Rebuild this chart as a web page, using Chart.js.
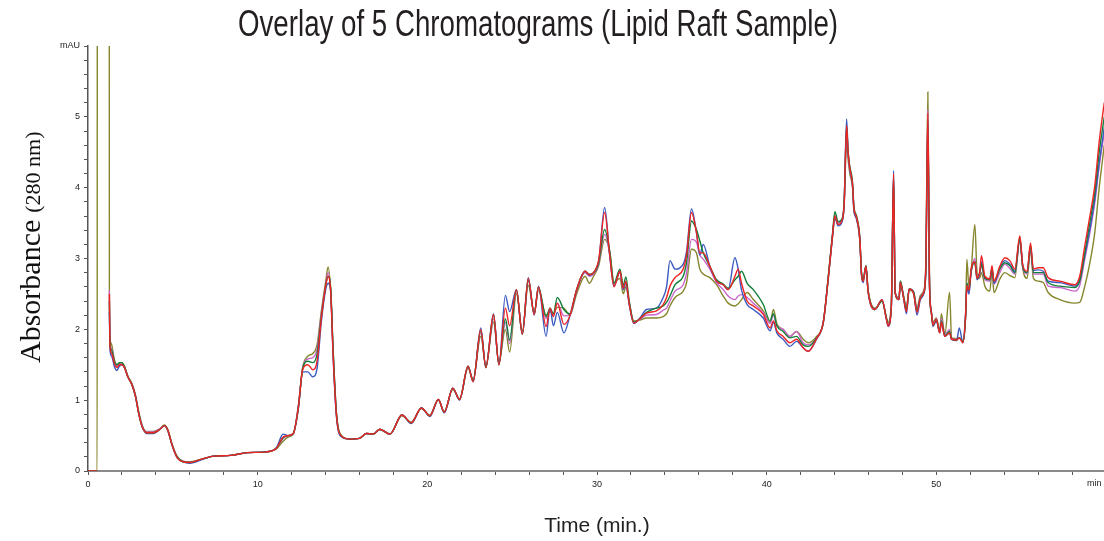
<!DOCTYPE html>
<html>
<head>
<meta charset="utf-8">
<title>Overlay of 5 Chromatograms</title>
<script src="https://cdn.jsdelivr.net/npm/chart.js@4.4.1/dist/chart.umd.min.js"></script>
<style>
	html, body { margin: 0; padding: 0; background: #fff; overflow: hidden; }
	#wrap { position: absolute; left: 0; top: 0; width: 1120px; height: 541px; }
</style>
</head>
<body>
<div id="wrap"><canvas id="chromChart"></canvas></div>

<script>
	const chartTitle = 'Overlay of 5 Chromatograms (Lipid Raft Sample)';
	const yTitleMain = 'Absorbance';
	const yTitleSub = '(280 nm)';
	const xTitle = 'Time (min.)';
	const runNames = ['Run 1', 'Run 2', 'Run 3', 'Run 4', 'Run 5'];

	// retention time (min)
	const times = [
		0, 0.54, 0.55, 1.25, 1.26, 1.30, 1.40, 1.55, 1.70, 1.85,
		2.00, 2.15, 2.35, 2.60, 2.80, 3.00, 3.20, 3.45, 3.85, 4.25,
		4.50, 4.70, 4.95, 5.25, 5.60, 6.00, 6.60, 7.40, 8.40, 9.40,
		10.50, 11.10, 11.50, 11.80, 12.10, 12.40, 12.65, 12.95, 13.25, 13.50,
		13.75, 14.00, 14.15, 14.30, 14.45, 14.65, 14.95, 15.45, 16.00, 16.40,
		16.80, 17.20, 17.80, 18.50, 19.05, 19.65, 20.15, 20.65, 21.00, 21.50,
		21.90, 22.40, 22.70, 23.15, 23.45, 23.90, 24.22, 24.60, 24.85, 25.25,
		25.60, 25.95, 26.30, 26.55, 27.00, 27.23, 27.43, 27.66, 28.05, 28.40,
		28.80, 29.30, 29.55, 29.80, 30.10, 30.45, 30.75, 31.00, 31.35, 31.55,
		31.70, 31.90, 32.17, 32.53, 32.92, 33.50, 33.90, 34.10, 34.30, 34.60,
		35.08, 35.28, 35.57, 35.86, 36.06, 36.26, 36.65, 37.05, 37.44, 37.73,
		38.13, 38.32, 38.52, 38.85, 39.21, 39.80, 40.20, 40.40, 40.60, 40.97,
		41.37, 41.76, 42.15, 42.45, 42.94, 43.33, 43.62, 43.88, 44.02, 44.21,
		44.47, 44.57, 44.71, 44.80, 44.90, 45.06, 45.14, 45.30, 45.49, 45.59,
		45.69, 45.85, 45.98, 46.38, 46.80, 47.06, 47.16, 47.35, 47.48, 47.57,
		47.80, 47.88, 48.05, 48.24, 48.40, 48.66, 48.86, 49.06, 49.26, 49.38,
		49.50, 49.60, 49.71, 49.80, 50.00, 50.20, 50.30, 50.50, 50.78, 50.90,
		51.20, 51.35, 51.57, 51.73, 51.80, 51.92, 52.05, 52.27, 52.40, 52.55,
		52.66, 52.86, 53.15, 53.28, 53.40, 53.74, 54.04, 54.33, 54.63, 54.92,
		55.10, 55.35, 55.55, 55.72, 56.00, 56.30, 56.59, 57.28, 58.16, 58.45,
		58.75, 59.05, 59.34, 59.60, 59.90
	];

	// absorbance (mAU) of each run
	const blueRun = [
		0, 0, null, null, 2.24, 1.70, 1.62, 1.48, 1.42, 1.48,
		1.50, 1.46, 1.33, 1.21, 1.05, 0.80, 0.62, 0.53, 0.53, 0.59,
		0.64, 0.57, 0.37, 0.19, 0.13, 0.11, 0.15, 0.21, 0.22, 0.26,
		0.27, 0.33, 0.52, 0.50, 0.53, 0.88, 1.40, 1.40, 1.33, 1.45,
		2.10, 2.55, 2.65, 2.55, 1.60, 0.75, 0.48, 0.45, 0.46, 0.53,
		0.52, 0.59, 0.52, 0.79, 0.67, 0.89, 0.77, 1.01, 0.82, 1.17,
		1.00, 1.48, 1.26, 2.02, 1.46, 2.22, 1.50, 2.48, 2.25, 2.56,
		1.93, 2.73, 2.20, 2.61, 1.90, 2.30, 2.05, 2.24, 1.95, 2.19,
		2.56, 2.82, 2.76, 2.80, 2.95, 3.72, 3.04, 2.61, 2.82, 2.56,
		2.65, 2.35, 2.08, 2.16, 2.28, 2.30, 2.45, 2.60, 2.97, 2.85,
		2.92, 3.10, 3.70, 3.37, 3.05, 3.20, 2.89, 2.68, 2.63, 2.56,
		3.01, 2.85, 2.55, 2.35, 2.28, 2.16, 1.98, 2.10, 1.95, 1.86,
		1.76, 1.83, 1.74, 1.69, 1.86, 2.09, 2.70, 3.32, 3.58, 3.46,
		3.54, 3.80, 4.97, 4.52, 4.26, 4.03, 3.70, 3.56, 3.27, 2.75,
		2.66, 2.89, 2.52, 2.28, 2.42, 2.14, 2.04, 2.33, 4.24, 2.52,
		2.42, 2.66, 2.47, 2.22, 2.57, 2.52, 2.20, 2.42, 2.50, 2.80,
		4.90, 2.60, 2.23, 2.04, 2.12, 1.95, 2.10, 1.90, 1.95, 1.86,
		1.84, 2.02, 1.81, 2.25, 2.60, 2.50, 2.82, 2.95, 2.70, 2.78,
		2.95, 2.72, 2.70, 2.85, 2.65, 2.87, 2.97, 2.92, 2.82, 3.28,
		2.88, 2.80, 3.18, 2.83, 2.84, 2.82, 2.68, 2.66, 2.61, 2.70,
		3.04, 3.41, 3.84, 4.35, 4.85
	];

	const redRun = [
		0, 0, null, null, 2.50, 1.75, 1.66, 1.52, 1.46, 1.50,
		1.50, 1.46, 1.33, 1.21, 1.05, 0.80, 0.62, 0.54, 0.54, 0.59,
		0.64, 0.58, 0.37, 0.19, 0.13, 0.12, 0.16, 0.21, 0.22, 0.26,
		0.27, 0.32, 0.48, 0.50, 0.53, 0.90, 1.43, 1.50, 1.43, 1.55,
		2.15, 2.60, 2.75, 2.55, 1.62, 0.77, 0.49, 0.45, 0.46, 0.53,
		0.52, 0.59, 0.52, 0.79, 0.68, 0.89, 0.78, 1.01, 0.83, 1.17,
		1.01, 1.48, 1.26, 2.00, 1.46, 2.21, 1.50, 2.30, 2.05, 2.56,
		1.93, 2.72, 2.21, 2.60, 2.04, 2.30, 2.18, 2.37, 2.07, 2.19,
		2.56, 2.82, 2.77, 2.80, 2.98, 3.65, 3.05, 2.60, 2.82, 2.58,
		2.68, 2.36, 2.09, 2.15, 2.23, 2.26, 2.35, 2.45, 2.61, 2.73,
		2.85, 3.05, 3.65, 3.37, 3.08, 3.08, 2.89, 2.68, 2.63, 2.56,
		2.75, 2.85, 2.65, 2.40, 2.33, 2.21, 2.02, 2.12, 1.98, 1.90,
		1.81, 1.86, 1.74, 1.69, 1.87, 2.09, 2.70, 3.32, 3.60, 3.48,
		3.56, 3.79, 4.88, 4.50, 4.28, 4.05, 3.72, 3.58, 3.28, 2.78,
		2.68, 2.89, 2.53, 2.28, 2.42, 2.14, 2.05, 2.33, 4.20, 2.52,
		2.42, 2.66, 2.47, 2.25, 2.57, 2.50, 2.24, 2.44, 2.52, 2.85,
		5.05, 2.60, 2.23, 2.06, 2.14, 1.95, 2.10, 1.90, 1.95, 1.86,
		1.85, 1.88, 1.81, 2.22, 2.62, 2.55, 2.85, 2.95, 2.72, 2.80,
		3.04, 2.75, 2.71, 2.90, 2.68, 2.89, 3.01, 2.97, 2.85, 3.32,
		2.90, 2.82, 3.22, 2.85, 2.87, 2.87, 2.73, 2.68, 2.63, 2.75,
		3.18, 3.60, 4.03, 4.65, 5.20
	];

	const greenRun = [
		0, 0, null, null, 2.40, 1.78, 1.70, 1.55, 1.50, 1.53,
		1.53, 1.47, 1.33, 1.21, 1.05, 0.80, 0.62, 0.54, 0.54, 0.59,
		0.64, 0.58, 0.37, 0.20, 0.13, 0.12, 0.16, 0.21, 0.22, 0.26,
		0.27, 0.32, 0.47, 0.50, 0.53, 0.90, 1.44, 1.55, 1.53, 1.65,
		2.18, 2.60, 2.75, 2.60, 1.70, 0.80, 0.49, 0.45, 0.46, 0.53,
		0.52, 0.59, 0.52, 0.79, 0.68, 0.89, 0.78, 1.01, 0.83, 1.17,
		1.01, 1.48, 1.27, 1.98, 1.46, 2.20, 1.50, 2.15, 1.85, 2.56,
		1.93, 2.70, 2.22, 2.60, 2.18, 2.30, 2.22, 2.45, 2.28, 2.22,
		2.56, 2.82, 2.78, 2.80, 2.96, 3.41, 3.10, 2.65, 2.85, 2.62,
		2.74, 2.40, 2.10, 2.15, 2.24, 2.30, 2.33, 2.38, 2.47, 2.63,
		2.75, 2.95, 3.53, 3.41, 3.25, 3.08, 2.89, 2.70, 2.64, 2.58,
		2.70, 2.75, 2.82, 2.65, 2.56, 2.35, 2.12, 2.22, 2.05, 1.97,
		1.88, 1.90, 1.78, 1.76, 1.88, 2.09, 2.72, 3.35, 3.66, 3.52,
		3.58, 3.82, 4.86, 4.50, 4.30, 4.08, 3.74, 3.60, 3.30, 2.80,
		2.70, 2.90, 2.55, 2.28, 2.40, 2.16, 2.06, 2.33, 4.18, 2.52,
		2.42, 2.68, 2.48, 2.28, 2.57, 2.52, 2.26, 2.45, 2.52, 2.85,
		4.95, 2.60, 2.23, 2.06, 2.14, 1.96, 2.12, 1.91, 1.97, 1.86,
		1.85, 1.88, 1.82, 2.20, 2.65, 2.55, 2.82, 2.95, 2.72, 2.80,
		2.92, 2.72, 2.70, 2.85, 2.68, 2.85, 2.94, 2.90, 2.80, 3.28,
		2.88, 2.80, 3.18, 2.80, 2.80, 2.80, 2.66, 2.61, 2.59, 2.68,
		3.08, 3.51, 3.93, 4.50, 5.00
	];

	const magentaRun = [
		0, 0, null, null, 2.55, 1.80, 1.72, 1.55, 1.48, 1.50,
		1.51, 1.46, 1.33, 1.22, 1.06, 0.81, 0.63, 0.55, 0.55, 0.60,
		0.64, 0.58, 0.38, 0.20, 0.14, 0.12, 0.16, 0.21, 0.22, 0.26,
		0.27, 0.32, 0.46, 0.50, 0.53, 0.92, 1.45, 1.58, 1.60, 1.72,
		2.22, 2.62, 2.80, 2.55, 1.65, 0.78, 0.49, 0.45, 0.46, 0.53,
		0.52, 0.59, 0.52, 0.79, 0.68, 0.89, 0.78, 1.01, 0.83, 1.17,
		1.01, 1.47, 1.28, 1.95, 1.47, 2.15, 1.52, 2.10, 1.80, 2.55,
		1.95, 2.68, 2.23, 2.58, 2.15, 2.28, 2.20, 2.37, 2.19, 2.20,
		2.54, 2.80, 2.75, 2.78, 2.94, 3.34, 3.06, 2.62, 2.80, 2.58,
		2.66, 2.37, 2.10, 2.14, 2.20, 2.21, 2.27, 2.30, 2.40, 2.54,
		2.63, 2.80, 3.27, 3.23, 3.05, 2.99, 2.85, 2.66, 2.56, 2.47,
		2.42, 2.47, 2.49, 2.45, 2.37, 2.23, 2.08, 2.20, 2.05, 2.00,
		1.90, 1.97, 1.81, 1.78, 1.88, 2.09, 2.70, 3.32, 3.60, 3.50,
		3.56, 3.79, 4.75, 4.45, 4.25, 4.03, 3.70, 3.56, 3.27, 2.78,
		2.70, 2.90, 2.54, 2.29, 2.41, 2.15, 2.08, 2.35, 4.15, 2.52,
		2.44, 2.68, 2.48, 2.30, 2.57, 2.53, 2.28, 2.46, 2.54, 2.88,
		5.10, 2.62, 2.25, 2.08, 2.15, 1.96, 2.15, 1.92, 2.00, 1.86,
		1.86, 1.88, 1.83, 2.18, 2.65, 2.50, 2.80, 3.00, 2.75, 2.78,
		2.90, 2.70, 2.68, 2.85, 2.64, 2.80, 2.92, 2.86, 2.78, 3.25,
		2.86, 2.78, 3.15, 2.78, 2.78, 2.78, 2.61, 2.59, 2.54, 2.62,
		2.99, 3.37, 3.79, 4.30, 4.78
	];

	const oliveRun = [
		0, 0, 8, 8, 2.58, 1.85, 1.78, 1.58, 1.50, 1.52,
		1.53, 1.48, 1.34, 1.23, 1.07, 0.83, 0.64, 0.56, 0.56, 0.60,
		0.65, 0.59, 0.38, 0.21, 0.14, 0.13, 0.16, 0.21, 0.22, 0.26,
		0.27, 0.31, 0.42, 0.48, 0.52, 0.93, 1.46, 1.62, 1.66, 1.78,
		2.25, 2.66, 2.88, 2.55, 1.70, 0.80, 0.50, 0.45, 0.46, 0.53,
		0.52, 0.58, 0.52, 0.78, 0.69, 0.88, 0.79, 1.00, 0.84, 1.15,
		1.02, 1.45, 1.30, 1.90, 1.50, 2.10, 1.55, 2.00, 1.68, 2.50,
		1.98, 2.62, 2.25, 2.55, 2.20, 2.25, 2.22, 2.31, 2.30, 2.20,
		2.50, 2.75, 2.65, 2.75, 2.90, 3.27, 3.10, 2.66, 2.72, 2.50,
		2.60, 2.38, 2.12, 2.13, 2.16, 2.16, 2.18, 2.22, 2.33, 2.45,
		2.54, 2.66, 3.13, 3.08, 2.85, 2.78, 2.73, 2.63, 2.47, 2.37,
		2.33, 2.36, 2.42, 2.52, 2.42, 2.26, 2.10, 2.28, 2.08, 2.00,
		1.90, 1.97, 1.86, 1.81, 1.90, 2.08, 2.68, 3.30, 3.58, 3.48,
		3.55, 3.75, 4.64, 4.40, 4.20, 4.00, 3.68, 3.55, 3.25, 2.80,
		2.72, 2.89, 2.55, 2.30, 2.40, 2.16, 2.10, 2.40, 4.10, 2.52,
		2.45, 2.68, 2.50, 2.32, 2.55, 2.53, 2.30, 2.48, 2.55, 2.95,
		5.35, 2.65, 2.25, 2.10, 2.16, 1.98, 2.22, 1.92, 2.52, 1.88,
		1.87, 1.88, 1.84, 2.25, 2.99, 2.60, 2.82, 3.48, 2.80, 2.72,
		2.80, 2.61, 2.54, 2.80, 2.52, 2.71, 2.80, 2.76, 2.73, 3.30,
		2.85, 2.72, 3.12, 2.72, 2.68, 2.66, 2.52, 2.42, 2.37, 2.38,
		2.61, 2.94, 3.37, 4.00, 4.60
	];

	// axis ranges and unit labels
	const xRange = [0, 60];
	const yRange = [0, 6];
	const xUnitLabel = 'min';
	const yUnitLabel = 'mAU';

	function toPoints(values) {
		return times.map((t, i) => ({ x: t, y: values[i] }));
	}

	// drawn top-first: Chart.js puts dataset 0 on top
	const runs = [
		{ values: redRun, color: '#ee2424', name: runNames[1] },
		{ values: greenRun, color: '#12803c', name: runNames[2] },
		{ values: blueRun, color: '#3a5ac0', name: runNames[0] },
		{ values: magentaRun, color: '#cc66cc', name: runNames[3] },
		{ values: oliveRun, color: '#86862e', name: runNames[4] }
	];

	// titles that need mixed sizes / condensed type, plus the clipped "min" unit
	const textPlugin = {
		id: 'chromText',
		afterDraw(chart) {
			const ctx = chart.ctx;

			// main title, squeezed to a condensed look
			ctx.save();
			ctx.font = '36px "Liberation Sans", Arial, sans-serif';
			ctx.fillStyle = '#231f20';
			ctx.textAlign = 'center';
			ctx.textBaseline = 'alphabetic';
			const tw = ctx.measureText(chartTitle).width;
			ctx.translate(538, 36);
			ctx.scale(600 / tw, 1);
			ctx.fillText(chartTitle, 0, 0);
			ctx.restore();

			// y axis title
			ctx.save();
			ctx.fillStyle = '#111';
			ctx.textAlign = 'left';
			ctx.textBaseline = 'alphabetic';
			ctx.translate(40, 363);
			ctx.rotate(-Math.PI / 2);
			ctx.font = '30px "Liberation Serif", "Times New Roman", serif';
			ctx.fillText(yTitleMain, 0, 0);
			const mw = ctx.measureText(yTitleMain).width;
			ctx.font = '22px "Liberation Serif", "Times New Roman", serif';
			ctx.fillText(yTitleSub, mw + 7, 0);
			ctx.restore();

			// x unit at the right end of the time axis
			const xs = chart.scales.x;
			ctx.save();
			ctx.fillStyle = '#222';
			ctx.font = '9px "Liberation Sans", Arial, sans-serif';
			ctx.textAlign = 'left';
			ctx.textBaseline = 'top';
			ctx.fillText(xUnitLabel, xs.right - 19, xs.top + 8);
			ctx.restore();
		}
	};

	const ctx = document.getElementById('chromChart').getContext('2d');
	const chromChart = new Chart(ctx, {
		type: 'line',
		data: {
			datasets: runs.map(r => ({
				label: r.name,
				data: toPoints(r.values),
				borderColor: r.color,
				backgroundColor: r.color,
				borderWidth: 1.4,
				pointRadius: 0,
				cubicInterpolationMode: 'monotone',
				spanGaps: false,
				fill: false
			}))
		},
		options: {
			responsive: true,
			maintainAspectRatio: false,
			animation: false,
			events: [],
			layout: { padding: { left: 0, right: 14, top: 46, bottom: 0 } },
			scales: {
				x: {
					type: 'linear',
					min: xRange[0],
					max: xRange[1],
					afterBuildTicks: scale => {
						const ticks = [];
						for (let v = xRange[0]; v <= xRange[1]; v += 2) ticks.push({ value: v });
						scale.ticks = ticks;
					},
					afterFit: scale => { scale.height = 70; },
					ticks: {
						autoSkip: false,
						maxRotation: 0,
						padding: 4,
						color: '#222',
						font: { family: '"Liberation Sans", Arial, sans-serif', size: 9 },
						callback: v => (v % 10 === 0 && v !== xRange[1]) ? String(v) : ''
					},
					grid: { drawOnChartArea: false, drawTicks: true, tickLength: 4, tickColor: '#555' },
					border: { display: true, color: '#8a8a8a', width: 2 },
					title: {
						display: true,
						text: xTitle,
						color: '#222',
						font: { family: '"Liberation Sans", Arial, sans-serif', size: 21 },
						padding: { top: 0, bottom: 2 }
					}
				},
				y: {
					min: yRange[0],
					max: yRange[1],
					afterBuildTicks: scale => {
						const ticks = [];
						for (let i = 0; i <= 30; i++) ticks.push({ value: i / 5 });
						scale.ticks = ticks;
					},
					afterFit: scale => { scale.width = 88; },
					ticks: {
						autoSkip: false,
						padding: 4,
						color: '#222',
						font: { family: '"Liberation Sans", Arial, sans-serif', size: 9 },
						callback: v => {
							if (Math.abs(v - yRange[1]) < 1e-6) return yUnitLabel;
							return Math.abs(v - Math.round(v)) < 1e-6 ? String(Math.round(v)) : '';
						}
					},
					grid: { drawOnChartArea: false, drawTicks: true, tickLength: 4, tickColor: '#555' },
					border: { display: true, color: '#555', width: 1.5 }
				}
			},
			plugins: {
				legend: { display: false },
				tooltip: { enabled: false },
				title: { display: false }
			}
		},
		plugins: [textPlugin]
	});
</script>
</body>
</html>
